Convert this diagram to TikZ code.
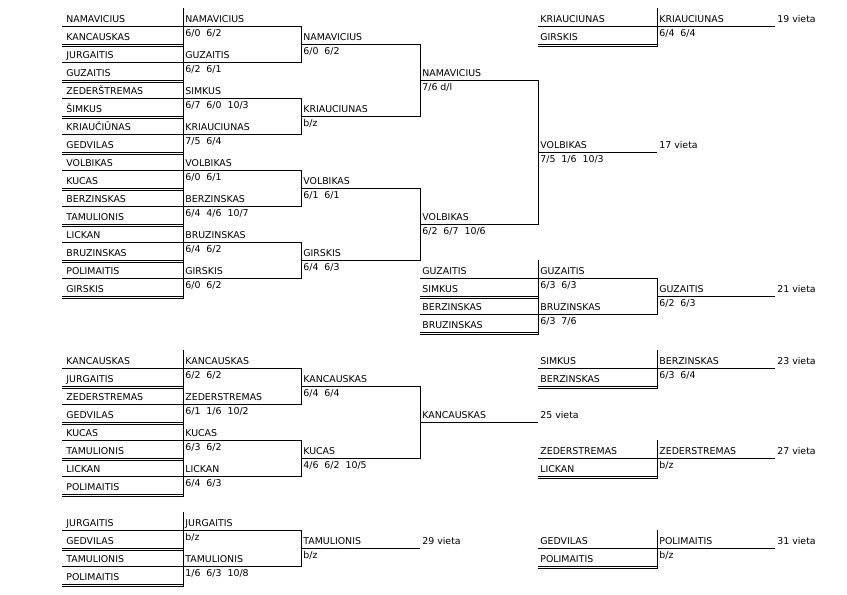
\documentclass[tikz,border=0pt]{standalone}
\usepackage{fontspec}
\setmainfont{DejaVu Sans}

\begin{document}
\begin{tikzpicture}[x=1pt,y=-18pt,line width=0.75pt,
  txt/.style={anchor=base west,inner sep=0pt,font=\fontsize{9.4}{11}\selectfont},
  pl/.style={txt,yshift=3.5pt},
  sc/.style={txt,yshift=-10.5pt}]
  \useasboundingbox (0,-1.4444) rectangle (847,31.6111);
  % pirmas ratas
  \node[pl] (a0) at (66,0) {NAMAVICIUS}; \node[pl] (a1) at (66,1) {KANCAUSKAS};
  \node[pl] (a2) at (66,2) {JURGAITIS}; \node[pl] (a3) at (66,3) {GUZAITIS};
  \node[pl] (a4) at (66,4) {ZEDERŠTREMAS}; \node[pl] (a5) at (66,5) {ŠIMKUS};
  \node[pl] (a6) at (66,6) {KRIAUČIŪNAS}; \node[pl] (a7) at (66,7) {GEDVILAS};
  \node[pl] (a8) at (66,8) {VOLBIKAS}; \node[pl] (a9) at (66,9) {KUCAS};
  \node[pl] (a10) at (66,10) {BERZINSKAS}; \node[pl] (a11) at (66,11) {TAMULIONIS};
  \node[pl] (a12) at (66,12) {LICKAN}; \node[pl] (a13) at (66,13) {BRUZINSKAS};
  \node[pl] (a14) at (66,14) {POLIMAITIS}; \node[pl] (a15) at (66,15) {GIRSKIS};
  \draw (62,0)--(183,0) (62,2)--(183,2) (62,4)--(183,4) (62,6)--(183,6)
        (62,8)--(183,8) (62,10)--(183,10) (62,12)--(183,12) (62,14)--(183,14);
  % dvigubos linijos
  \draw (62,1)--(183,1) (62,3)--(183,3) (62,5)--(183,5) (62,7)--(183,7)
        (62,9)--(183,9) (62,11)--(183,11) (62,13)--(183,13) (62,15)--(183,15);
  \draw (62,1.12)--(183,1.12) (62,3.12)--(183,3.12) (62,5.12)--(183,5.12) (62,7.12)--(183,7.12)
        (62,9.12)--(183,9.12) (62,11.12)--(183,11.12) (62,13.12)--(183,13.12) (62,15.12)--(183,15.12);
  \draw (183,-1)--(183,15.16);
  % antras ratas
  \node[pl] (b0) at (185,0) {NAMAVICIUS}; \node[sc] (b0s) at (185,0) {6/0~~6/2};
  \node[pl] (b2) at (185,2) {GUZAITIS}; \node[sc] (b2s) at (185,2) {6/2~~6/1};
  \node[pl] (b4) at (185,4) {SIMKUS}; \node[sc] (b4s) at (185,4) {6/7~~6/0~~10/3};
  \node[pl] (b6) at (185,6) {KRIAUCIUNAS}; \node[sc] (b6s) at (185,6) {7/5~~6/4};
  \node[pl] (b8) at (185,8) {VOLBIKAS}; \node[sc] (b8s) at (185,8) {6/0~~6/1};
  \node[pl] (b10) at (185,10) {BERZINSKAS}; \node[sc] (b10s) at (185,10) {6/4~~4/6~~10/7};
  \node[pl] (b12) at (185,12) {BRUZINSKAS}; \node[sc] (b12s) at (185,12) {6/4~~6/2};
  \node[pl] (b14) at (185,14) {GIRSKIS}; \node[sc] (b14s) at (185,14) {6/0~~6/2};
  \draw (183,0)--(301,0)--(301,2)--(183,2); \draw (183,4)--(301,4)--(301,6)--(183,6);
  \draw (183,8)--(301,8)--(301,10)--(183,10); \draw (183,12)--(301,12)--(301,14)--(183,14);
  % ketvirtfinaliai
  \node[pl] (c1) at (303,1) {NAMAVICIUS}; \node[sc] (c1s) at (303,1) {6/0~~6/2};
  \node[pl] (c5) at (303,5) {KRIAUCIUNAS}; \node[sc] (c5s) at (303,5) {b/z};
  \node[pl] (c9) at (303,9) {VOLBIKAS}; \node[sc] (c9s) at (303,9) {6/1~~6/1};
  \node[pl] (c13) at (303,13) {GIRSKIS}; \node[sc] (c13s) at (303,13) {6/4~~6/3};
  \draw (301,1)--(420,1)--(420,5)--(301,5); \draw (301,9)--(420,9)--(420,13)--(301,13);
  % pusfinaliai ir finalas
  \node[pl] (d3) at (422,3) {NAMAVICIUS}; \node[sc] (d3s) at (422,3) {7/6 d/l};
  \node[pl] (d11) at (422,11) {VOLBIKAS}; \node[sc] (d11s) at (422,11) {6/2~~6/7~~10/6};
  \draw (420,3)--(538,3)--(538,11)--(420,11);
  \node[pl] (e7) at (540,7) {VOLBIKAS}; \node[sc] (e7s) at (540,7) {7/5~~1/6~~10/3};
  \draw (538,7)--(657,7);
  \node[pl] (v7) at (659,7) {17 vieta};
  % 19 vieta
  \node[pl] (e0) at (540,0) {KRIAUCIUNAS}; \node[pl] (e1) at (540,1) {GIRSKIS};
  \draw (538,0)--(657,0) (538,1)--(657,1) (538,1.12)--(657,1.12); \draw (657,-1)--(657,1.16);
  \node[pl] (f0) at (659,0) {KRIAUCIUNAS}; \node[sc] (f0s) at (659,0) {6/4~~6/4};
  \draw (657,0)--(775,0);
  \node[pl] (v0) at (777,0) {19 vieta};
  % 21 vieta
  \node[pl] (d14) at (422,14) {GUZAITIS}; \node[pl] (d15) at (422,15) {SIMKUS};
  \node[pl] (d16) at (422,16) {BERZINSKAS}; \node[pl] (d17) at (422,17) {BRUZINSKAS};
  \draw (420,14)--(538,14) (420,16)--(538,16) (420,15)--(538,15) (420,17)--(538,17)
        (420,15.12)--(538,15.12) (420,17.12)--(538,17.12);
  \draw (538,13)--(538,17.16);
  \node[pl] (e14) at (540,14) {GUZAITIS}; \node[sc] (e14s) at (540,14) {6/3~~6/3};
  \node[pl] (e16) at (540,16) {BRUZINSKAS}; \node[sc] (e16s) at (540,16) {6/3~~7/6};
  \draw (538,14)--(657,14)--(657,16)--(538,16);
  \node[pl] (f15) at (659,15) {GUZAITIS}; \node[sc] (f15s) at (659,15) {6/2~~6/3};
  \draw (657,15)--(775,15);
  \node[pl] (v15) at (777,15) {21 vieta};
  % 25 vieta
  \node[pl] (a19) at (66,19) {KANCAUSKAS}; \node[pl] (a20) at (66,20) {JURGAITIS};
  \node[pl] (a21) at (66,21) {ZEDERSTREMAS}; \node[pl] (a22) at (66,22) {GEDVILAS};
  \node[pl] (a23) at (66,23) {KUCAS}; \node[pl] (a24) at (66,24) {TAMULIONIS};
  \node[pl] (a25) at (66,25) {LICKAN}; \node[pl] (a26) at (66,26) {POLIMAITIS};
  \draw (62,19)--(183,19) (62,21)--(183,21) (62,23)--(183,23) (62,25)--(183,25);
  \draw (62,20)--(183,20) (62,22)--(183,22) (62,24)--(183,24) (62,26)--(183,26)
        (62,20.12)--(183,20.12) (62,22.12)--(183,22.12) (62,24.12)--(183,24.12) (62,26.12)--(183,26.12);
  \draw (183,18)--(183,26.16);
  \node[pl] (b19) at (185,19) {KANCAUSKAS}; \node[sc] (b19s) at (185,19) {6/2~~6/2};
  \node[pl] (b21) at (185,21) {ZEDERSTREMAS}; \node[sc] (b21s) at (185,21) {6/1~~1/6~~10/2};
  \node[pl] (b23) at (185,23) {KUCAS}; \node[sc] (b23s) at (185,23) {6/3~~6/2};
  \node[pl] (b25) at (185,25) {LICKAN}; \node[sc] (b25s) at (185,25) {6/4~~6/3};
  \draw (183,19)--(301,19)--(301,21)--(183,21); \draw (183,23)--(301,23)--(301,25)--(183,25);
  \node[pl] (c20) at (303,20) {KANCAUSKAS}; \node[sc] (c20s) at (303,20) {6/4~~6/4};
  \node[pl] (c24) at (303,24) {KUCAS}; \node[sc] (c24s) at (303,24) {4/6~~6/2~~10/5};
  \draw (301,20)--(420,20)--(420,24)--(301,24);
  \node[pl] (d22) at (422,22) {KANCAUSKAS}; \draw (420,22)--(538,22);
  \node[pl] (v22) at (540,22) {25 vieta};
  % 23 ir 27 vieta
  \node[pl] (e19) at (540,19) {SIMKUS}; \node[pl] (e20) at (540,20) {BERZINSKAS};
  \draw (538,19)--(657,19) (538,20)--(657,20) (538,20.12)--(657,20.12); \draw (657,18)--(657,20.16);
  \node[pl] (f19) at (659,19) {BERZINSKAS}; \node[sc] (f19s) at (659,19) {6/3~~6/4};
  \draw (657,19)--(775,19);
  \node[pl] (v19) at (777,19) {23 vieta};
  \node[pl] (e24) at (540,24) {ZEDERSTREMAS}; \node[pl] (e25) at (540,25) {LICKAN};
  \draw (538,24)--(657,24) (538,25)--(657,25) (538,25.12)--(657,25.12); \draw (657,23)--(657,25.16);
  \node[pl] (f24) at (659,24) {ZEDERSTREMAS}; \node[sc] (f24s) at (659,24) {b/z};
  \draw (657,24)--(775,24);
  \node[pl] (v24) at (777,24) {27 vieta};
  % 29 ir 31 vieta
  \node[pl] (a28) at (66,28) {JURGAITIS}; \node[pl] (a29) at (66,29) {GEDVILAS};
  \node[pl] (a30) at (66,30) {TAMULIONIS}; \node[pl] (a31) at (66,31) {POLIMAITIS};
  \draw (62,28)--(183,28) (62,30)--(183,30) (62,29)--(183,29) (62,31)--(183,31)
        (62,29.12)--(183,29.12) (62,31.12)--(183,31.12);
  \draw (183,27)--(183,31.16);
  \node[pl] (b28) at (185,28) {JURGAITIS}; \node[sc] (b28s) at (185,28) {b/z};
  \node[pl] (b30) at (185,30) {TAMULIONIS}; \node[sc] (b30s) at (185,30) {1/6~~6/3~~10/8};
  \draw (183,28)--(301,28)--(301,30)--(183,30);
  \node[pl] (c29) at (303,29) {TAMULIONIS}; \node[sc] (c29s) at (303,29) {b/z};
  \draw (301,29)--(420,29);
  \node[pl] (v29) at (422,29) {29 vieta};
  \node[pl] (e29) at (540,29) {GEDVILAS}; \node[pl] (e30) at (540,30) {POLIMAITIS};
  \draw (538,29)--(657,29) (538,30)--(657,30) (538,30.12)--(657,30.12); \draw (657,28)--(657,30.16);
  \node[pl] (f29) at (659,29) {POLIMAITIS}; \node[sc] (f29s) at (659,29) {b/z};
  \draw (657,29)--(775,29);
  \node[pl] (v31) at (777,29) {31 vieta};
\end{tikzpicture}
\end{document}
